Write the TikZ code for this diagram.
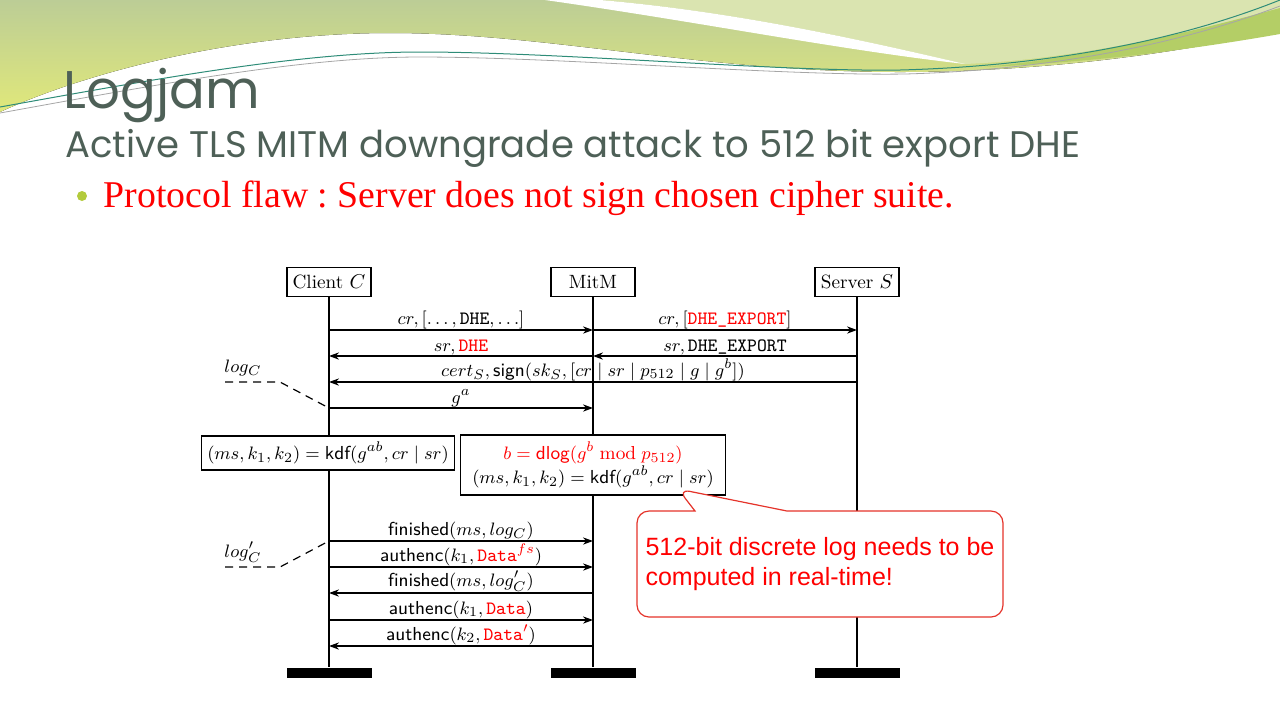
\documentclass[tikz,border=0pt]{standalone}
\usepackage{fontspec}
\usetikzlibrary{arrows.meta,shapes.callouts}
\newfontfamily\titlefont{Poppins}
\newfontfamily\flawfont{Liberation Serif}
\newfontfamily\notefont{Liberation Sans}
\definecolor{titlegray}{HTML}{4E6057}
\definecolor{bulletgreen}{HTML}{B3CB3C}
\definecolor{swoopdark}{HTML}{BCCD96}
\definecolor{swoopyellow}{HTML}{E0E87A}
\definecolor{swooplight}{HTML}{DAE4B0}
\definecolor{swoopmid}{HTML}{B4CE66}
\definecolor{swoopline}{HTML}{2E8C78}
\definecolor{noteedge}{HTML}{E5332A}
\tikzset{%
  actor/.style={draw, fill=white, minimum width=42pt, minimum height=14.5pt,%
    inner sep=1pt, font=\fontsize{9.6}{11.5}\selectfont},%
  lifeend/.style={fill=black, minimum width=42.5pt, minimum height=5pt, inner sep=0pt},%
  msg/.style={-{Stealth[length=5pt,width=3.6pt]}},%
  lbl/.style={above, inner sep=0.4pt, font=\fontsize{9.4}{11}\selectfont},%
  keybox/.style={draw, fill=white, inner xsep=3pt, inner ysep=3pt,%
    align=center, font=\fontsize{9.4}{12}\selectfont},%
  logline/.style={dashed, dash pattern=on 4pt off 3pt},%
  note/.style={rectangle callout, draw=noteedge, fill=white, rounded corners=6pt,%
    callout pointer width=46pt, minimum width=183pt, minimum height=53pt,%
    align=left, text=red, font=\notefont\fontsize{12.5}{15}\selectfont},%
}
\begin{document}
\begin{tikzpicture}[x=0.5pt,y=-0.5pt,line width=0.6pt]%
\useasboundingbox (0,0) rectangle (1280,720);%
% Slide background
\fill[top color=swoopdark, bottom color=swoopyellow] (0,0) -- (1280,0) -- (1280,30)%
  .. controls (1150,60) and (1010,72) .. (900,72)%
  .. controls (700,72) and (550,33) .. (390,33)%
  .. controls (230,33) and (80,75) .. (0,112) -- cycle;%
\fill[swooplight] (600,0) -- (1280,0) -- (1280,10)%
  .. controls (1160,40) and (1060,60) .. (965,64)%
  .. controls (870,42) and (740,12) .. (600,0) -- cycle;%
\fill[white] (545,0) -- (600,0) .. controls (740,12) and (870,42) .. (965,64)%
  .. controls (840,50) and (700,22) .. (545,0) -- cycle;%
\fill[swoopmid] (1280,8) .. controls (1180,35) and (1080,58) .. (985,67)%
  .. controls (1100,62) and (1200,48) .. (1280,34) -- cycle;%
\draw[swoopline, line width=0.5pt] (0,107) .. controls (150,80) and (300,52) .. (420,52)%
  .. controls (560,52) and (780,72) .. (900,70) .. controls (1050,66) and (1180,40) .. (1280,0);%
\draw[gray!70, line width=0.4pt] (0,113) .. controls (150,86) and (300,57) .. (420,57)%
  .. controls (560,57) and (780,76) .. (905,74) .. controls (1050,70) and (1180,44) .. (1280,6);%
% Title and bullet
\node[anchor=base west, inner sep=0pt, text=titlegray, font=\titlefont\fontsize{26.5}{28}\selectfont]%
  (title) at (63,108) {Logjam};%
\node[anchor=base west, inner sep=0pt, text=titlegray, font=\titlefont\fontsize{18.5}{20}\selectfont]%
  (subtitle) at (65,157) {Active TLS MITM downgrade attack to 512 bit export DHE};%
\fill[bulletgreen] (82,196) circle (5);%
\node[anchor=base west, inner sep=0pt, text=red, font=\flawfont\fontsize{18.9}{20}\selectfont]%
  (flaw) at (103,207) {\frenchspacing Protocol flaw : Server does not sign chosen cipher suite.};%
% Parties and lifelines
\foreach \who/\x/\name in {client/329/{Client $C$},mitm/593/{MitM},server/857/{Server $S$}}{%
  \node[actor] (\who) at (\x,282) {\name};%
  \node[lifeend] (\who end) at (\x,673) {};%
  \draw (\who) -- (\who end);%
}%
% Rows on the lifelines
\foreach \row/\y in {1/330,2/356,3/382,4/408,5/541,6/567,7/593,8/620,9/646}{%
  \coordinate (C\row) at (client |- 0,\y);%
  \coordinate (M\row) at (mitm |- 0,\y);%
  \coordinate (S\row) at (server |- 0,\y);%
}%
% Messages
\foreach \from/\to/\txt in {%
    C1/M1/{$cr, [\ldots, \mathtt{DHE}, \ldots]$},%
    M1/S1/{$cr, [\textcolor{red}{\texttt{DHE\_EXPORT}}]$},%
    M2/C2/{$sr, \textcolor{red}{\mathtt{DHE}}$},%
    S2/M2/{$sr, \texttt{DHE\_EXPORT}$},%
    S3/C3/{$cert_S, \mathsf{sign}(sk_S, [cr \mid sr \mid p_{512} \mid g \mid g^b])$},%
    C4/M4/{$g^a$},%
    C5/M5/{$\mathsf{finished}(ms, log_C)$},%
    C6/M6/{$\mathsf{authenc}(k_1, \textcolor{red}{\mathtt{Data}^{fs}})$},%
    M7/C7/{$\mathsf{finished}(ms, log'_C)$},%
    C8/M8/{$\mathsf{authenc}(k_1, \textcolor{red}{\mathtt{Data}})$},%
    M9/C9/{$\mathsf{authenc}(k_2, \textcolor{red}{\mathtt{Data}'})$}%
  }{%
  \draw[msg] (\from) -- node[lbl] {\txt} (\to);%
}%
% Transcript hashes
\node[font=\fontsize{9.4}{11}\selectfont] (logC) at (243,368) {$log_C$};%
\coordinate (logCa) at (225,382);%
\coordinate (logCb) at (280,382);%
\draw[logline] (logCa) -- (logCb) -- (C4);%
\node[font=\fontsize{9.4}{11}\selectfont] (logCp) at (243,552) {$log'_C$};%
\coordinate (logCpa) at (225,567);%
\coordinate (logCpb) at (280,567);%
\draw[logline] (logCpa) -- (logCpb) -- (C5);%
% Key derivation
\node[keybox] (kdfC) at (328,453) {$(ms, k_1, k_2) = \mathsf{kdf}(g^{ab}, cr \mid sr)$};%
\node[keybox, inner xsep=6pt, inner ysep=3.5pt] (kdfM) at (593,465)%
  {\textcolor{red}{$b = \mathsf{dlog}(g^b \bmod p_{512})$}\\%
  $(ms, k_1, k_2) = \mathsf{kdf}(g^{ab}, cr \mid sr)$};%
% Remark
\coordinate (tip) at (678,489);%
\node[note, callout absolute pointer={(tip)}] (remark) at (820,564)%
  {512-bit discrete log needs to be\\computed in real-time!};%
\end{tikzpicture}%
\end{document}
